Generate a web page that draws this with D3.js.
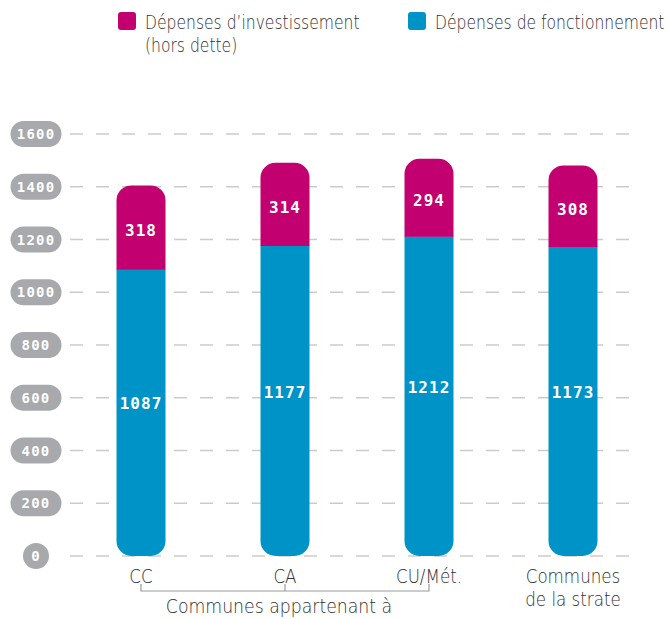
<!DOCTYPE html>
<html>
<head>
<meta charset="utf-8">
<script src="https://cdn.jsdelivr.net/npm/d3@7"></script>
<style>
  body { margin: 0; background: #fff; }
  .lbl { font-family: "DejaVu Sans", sans-serif; font-weight: 200; fill: #2e2e2e; }
  .num { font-family: "DejaVu Sans Mono", monospace; font-weight: bold; fill: #fff; }
</style>
</head>
<body>
<svg width="669" height="619"></svg>
<script>
// values
var categories = ["CC", "CA", "CU/Mét.", "Communes de la strate"];
var fonctionnement = [1087, 1177, 1212, 1173];
var investissement = [318, 314, 294, 308];
var yTicks = [0, 200, 400, 600, 800, 1000, 1200, 1400, 1600];
var xLabels = [["CC"], ["CA"], ["CU/Mét."], ["Communes", "de la strate"]];
var groupLabel = "Communes appartenant à";
var legendItems = [["Dépenses d’investissement", "(hors dette)"], ["Dépenses de fonctionnement"]];

var magenta = "#c3006f";
var blue = "#0093c8";

var svg = d3.select("svg");

var y = d3.scaleLinear().domain([0, 1600]).range([556, 134]);
var x = d3.scalePoint().domain(categories).range([69, 645]).padding(0.5);
var barW = 49, r = 15;

// narrow light text: the original face is condensed
function squeezed(g, tx, ty, sx, anchor, size) {
    return g.append("text")
        .attr("class", "lbl")
        .attr("text-anchor", anchor)
        .attr("font-size", size)
        .attr("transform", "translate(" + tx + "," + ty + ") scale(" + sx + ",1)");
}

// dashed grid
svg.append("g")
    .selectAll("line")
    .data(yTicks)
    .enter().append("line")
    .attr("x1", 70).attr("x2", 642)
    .attr("y1", function(d) { return y(d); })
    .attr("y2", function(d) { return y(d); })
    .attr("stroke", "#cbcbcb")
    .attr("stroke-width", 1.5)
    .attr("stroke-dasharray", "13,13");

// y tick pills
var ticks = svg.append("g").selectAll("g")
    .data(yTicks)
    .enter().append("g")
    .attr("transform", function(d) { return "translate(36," + y(d) + ")"; });
ticks.append("rect")
    .attr("x", function(d) { return d === 0 ? -13 : -25.5; })
    .attr("y", -13)
    .attr("width", function(d) { return d === 0 ? 26 : 51; })
    .attr("height", 26)
    .attr("rx", 13)
    .attr("fill", "#a8a9ac");
ticks.append("text")
    .attr("class", "num")
    .attr("text-anchor", "middle")
    .attr("dy", "0.36em")
    .attr("font-size", 14)
    .attr("letter-spacing", 1.2)
    .text(function(d) { return d; });

// bars
function topRounded(x0, y0, w, h) {
    return "M" + x0 + "," + (y0 + h) + "V" + (y0 + r) +
        "A" + r + "," + r + " 0 0 1 " + (x0 + r) + "," + y0 +
        "H" + (x0 + w - r) +
        "A" + r + "," + r + " 0 0 1 " + (x0 + w) + "," + (y0 + r) +
        "V" + (y0 + h) + "Z";
}
function bottomRounded(x0, y0, w, h) {
    return "M" + x0 + "," + y0 + "V" + (y0 + h - r) +
        "A" + r + "," + r + " 0 0 0 " + (x0 + r) + "," + (y0 + h) +
        "H" + (x0 + w - r) +
        "A" + r + "," + r + " 0 0 0 " + (x0 + w) + "," + (y0 + h - r) +
        "V" + y0 + "Z";
}

var bars = svg.append("g").selectAll("g")
    .data(categories)
    .enter().append("g");

bars.append("path")
    .attr("fill", blue)
    .attr("d", function(d, i) {
        var y0 = y(fonctionnement[i]);
        return bottomRounded(x(d) - barW / 2, y0, barW, y(0) - y0);
    });
bars.append("path")
    .attr("fill", magenta)
    .attr("d", function(d, i) {
        var y0 = y(fonctionnement[i] + investissement[i]);
        return topRounded(x(d) - barW / 2, y0, barW, y(fonctionnement[i]) - y0 + 0.5);
    });

bars.append("text")
    .attr("class", "num")
    .attr("text-anchor", "middle")
    .attr("font-size", 16)
    .attr("letter-spacing", 1)
    .attr("x", function(d) { return x(d); })
    .attr("y", function(d, i) { return y(fonctionnement[i] / 2) - 9; })
    .attr("dy", "0.36em")
    .text(function(d, i) { return fonctionnement[i]; });
bars.append("text")
    .attr("class", "num")
    .attr("text-anchor", "middle")
    .attr("font-size", 16)
    .attr("letter-spacing", 1)
    .attr("x", function(d) { return x(d); })
    .attr("y", function(d, i) { return y(fonctionnement[i] + investissement[i] / 2) + 3; })
    .attr("dy", "0.36em")
    .text(function(d, i) { return investissement[i]; });

// x labels
var xg = svg.append("g");
categories.forEach(function(c, i) {
    var t = squeezed(xg, x(c), 583, 0.88, "middle", 19);
    t.selectAll("tspan")
        .data(xLabels[i])
        .enter().append("tspan")
        .attr("x", 0)
        .attr("dy", function(d, j) { return j === 0 ? 0 : 23; })
        .text(function(d) { return d; });
});

// bracket under the first three
var grp = categories.slice(0, 3);
var bx0 = x(grp[0]), bx2 = x(grp[2]);
svg.append("path")
    .attr("fill", "none")
    .attr("stroke", "#9a9a9a")
    .attr("stroke-width", 1.2)
    .attr("d", "M" + bx0 + ",584V591H" + bx2 + "V584M" + x(grp[1]) + ",591V584");
squeezed(svg, (bx0 + bx2) / 2 - 6, 613, 0.91, "middle", 19).text(groupLabel);

// legend
var legend = svg.append("g");
var legX = [118, 408];
[magenta, blue].forEach(function(col, i) {
    legend.append("rect")
        .attr("x", legX[i]).attr("y", 12)
        .attr("width", 18).attr("height", 18)
        .attr("rx", 3).attr("fill", col);
    var t = squeezed(legend, legX[i] + 27, 29, 0.82, "start", 19);
    t.selectAll("tspan")
        .data(legendItems[i])
        .enter().append("tspan")
        .attr("x", 0)
        .attr("dy", function(d, j) { return j === 0 ? 0 : 23; })
        .text(function(d) { return d; });
});
</script>
</body>
</html>
